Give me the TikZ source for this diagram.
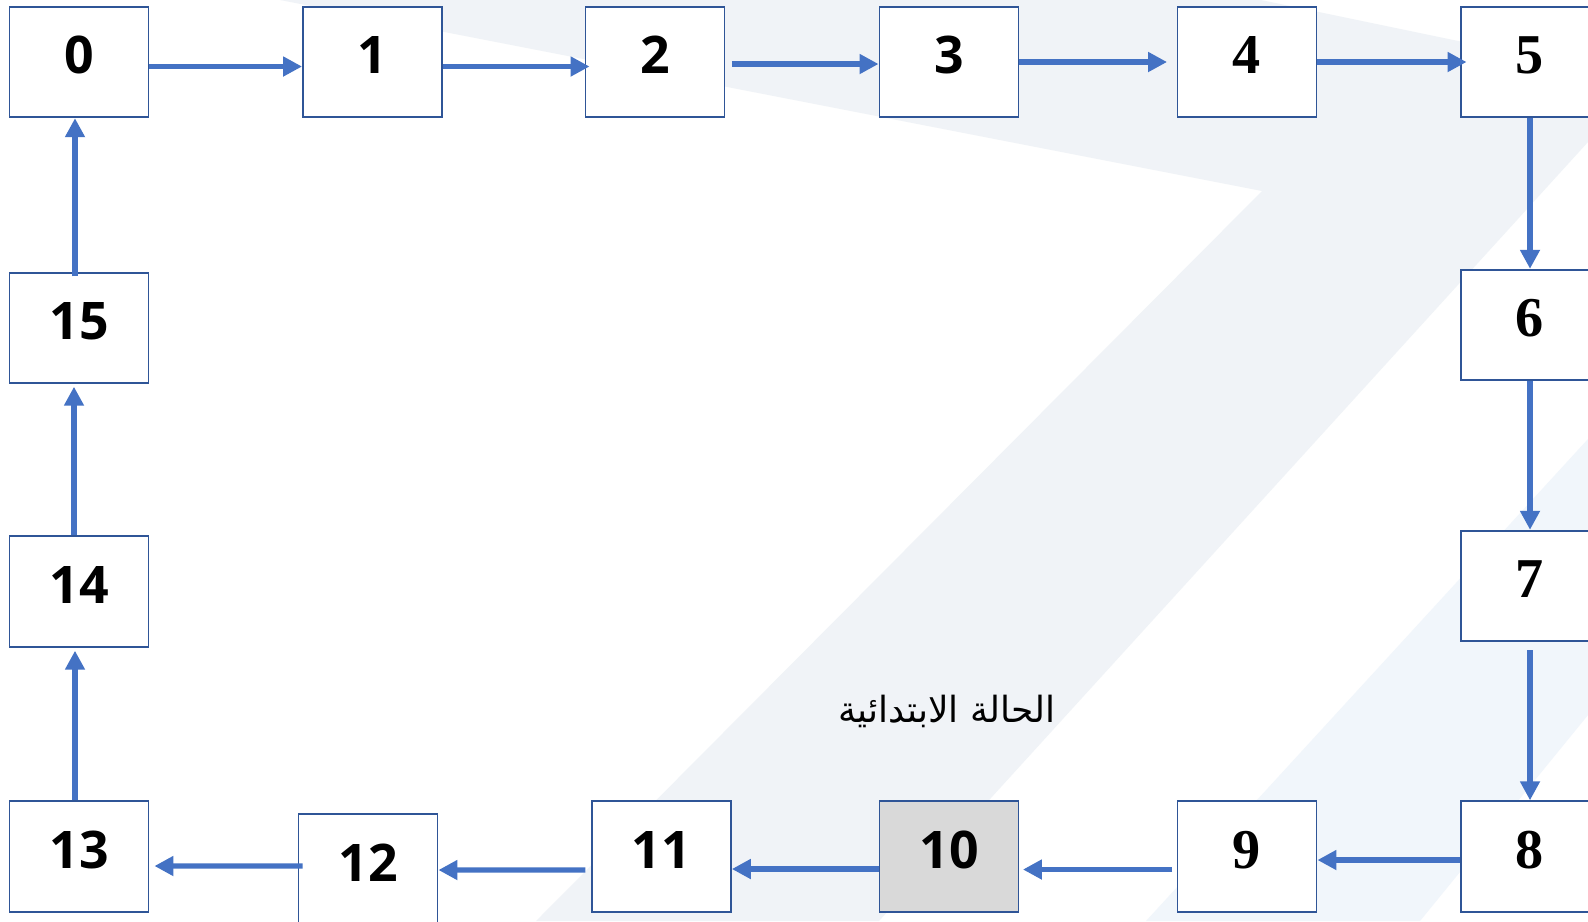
\documentclass[tikz,border=0pt]{standalone}
\usepackage{fontspec}
\usetikzlibrary{arrows.meta}
\newfontfamily\numsans{Open Sans}
\newfontfamily\numserif{Liberation Serif}
\newfontfamily\arabicfont[Script=Arabic]{DejaVu Sans}
\TeXXeTstate=1
\definecolor{bandA}{HTML}{F0F3F7}
\definecolor{bandB}{HTML}{F1F6FB}
\definecolor{boxline}{HTML}{2F5597}
\definecolor{flowblue}{HTML}{4472C4}
\definecolor{startgray}{HTML}{D9D9D9}
\tikzset{
  cell/.style={draw=boxline,line width=1.1pt,fill=white,minimum width=2.78cm,minimum height=2.21cm,inner sep=0pt,text depth=0.28cm},
  sans/.style={font=\numsans\bfseries\fontsize{29.5}{30}\selectfont},
  serif/.style={font=\numserif\bfseries\fontsize{32}{33}\selectfont},
  flow/.style={draw=flowblue,line width=3.1pt,-{Triangle[length=0.38cm,width=0.38cm]}},
}
\begin{document}
\begin{tikzpicture}[x=0.02cm,y=-0.02cm]
\useasboundingbox (0,0) rectangle (1588,921);
\clip (0,0) rectangle (1588,921);
\fill[white] (0,0) rectangle (1588,921);
\fill[bandA] (280,0)--(1261,0)--(1588,68)--(1588,142)--(879,921)--(536,921)--(1262,191)--cycle;
\fill[bandB] (1588,439)--(1588,715)--(1420,921)--(1146,921)--cycle;
\node[cell,sans] (n0) at (79,62) {0};
\node[cell,sans] (n1) at (372.5,62) {1};
\node[cell,sans] (n2) at (655,62) {2};
\node[cell,sans] (n3) at (949,62) {3};
\node[cell,serif] (n4) at (1247,62) {4};
\node[cell,serif] (n5) at (1530,62) {5};
\node[cell,serif] (n6) at (1530,325) {6};
\node[cell,serif] (n7) at (1530,586) {7};
\node[cell,serif] (n8) at (1530,856.5) {8};
\node[cell,serif] (n9) at (1247,856.5) {9};
\node[cell,sans,fill=startgray] (n10) at (949,856.5) {10};
\node[cell,sans] (n11) at (661.4,856.5) {11};
\node[cell,sans] (n12) at (368,869.5) {12};
\node[cell,sans] (n13) at (79,856.5) {13};
\node[cell,sans] (n14) at (79,591.5) {14};
\node[cell,sans] (n15) at (79,328) {15};
\node (start) at (947,711) {\arabicfont\fontsize{20.5}{22}\selectfont\beginR الحالة الابتدائية\endR};
\draw[flow] ([yshift=-0.09cm]n0.east)--([yshift=-0.09cm]n1.west);
\draw[flow,shorten >=-0.1cm] ([yshift=-0.09cm]n1.east)--([yshift=-0.09cm]n2.west);
\draw[flow,shorten <=0.13cm] ([yshift=-0.04cm]n2.east)--([yshift=-0.04cm]n3.west);
\draw[flow,shorten >=0.19cm] (n3.east)--(n4.west);
\draw[flow,shorten >=-0.14cm] (n4.east)--(n5.west);
\draw[flow] (n5.south)--(n6.north);
\draw[flow] (n6.south)--(n7.north);
\draw[flow,shorten <=0.16cm] (n7.south)--(n8.north);
\draw[flow] ([yshift=-0.07cm]n8.west)--([yshift=-0.07cm]n9.east);
\draw[flow,shorten <=0.09cm,shorten >=0.07cm] ([yshift=-0.26cm]n9.west)--([yshift=-0.26cm]n10.east);
\draw[flow] ([yshift=-0.25cm]n10.west)--([yshift=-0.25cm]n11.east);
\draw[flow,shorten <=0.11cm] ([yshift=-0.27cm]n11.west)--([yshift=-0.01cm]n12.east);
\draw[flow,shorten <=-0.1cm,shorten >=0.1cm] ([yshift=0.07cm]n12.west)--([yshift=-0.19cm]n13.east);
\draw[flow,shorten >=0.06cm] ([xshift=-0.08cm]n13.north)--([xshift=-0.08cm]n14.south);
\draw[flow,shorten >=0.05cm] ([xshift=-0.1cm]n14.north)--([xshift=-0.1cm]n15.south);
\draw[flow,shorten <=-0.09cm] ([xshift=-0.08cm]n15.north)--([xshift=-0.08cm]n0.south);
\end{tikzpicture}
\end{document}
